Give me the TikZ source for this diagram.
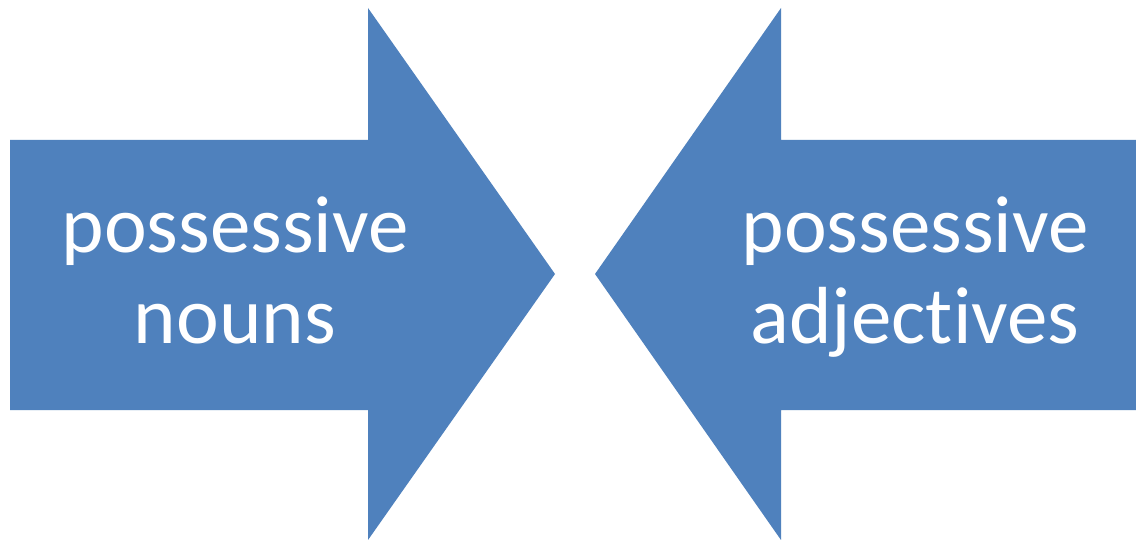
\documentclass[tikz,border=0pt]{standalone}
\usepackage{fontspec}
\setmainfont{Carlito}[Ligatures={NoCommon,NoContextual}]
\definecolor{arrowblue}{HTML}{4F81BD}
\begin{document}
\begin{tikzpicture}[x=1pt,y=-1pt,
  arrowshape/.style={fill=arrowblue,draw=none},
  label/.style={text=white,font=\fontsize{81}{96}\selectfont,anchor=base,inner sep=0pt}]
\useasboundingbox (0,0) rectangle (1136,540);
\fill[white] (0,0) rectangle (1136,540);
% left arrow
\fill[arrowshape] (10,140) -- (368,140) -- (368,8) -- (555,274) -- (368,540) -- (368,410) -- (10,410) -- cycle;
% right arrow
\fill[arrowshape] (1136,140) -- (781,140) -- (781,8) -- (595,274) -- (781,540) -- (781,410) -- (1136,410) -- cycle;
\node[label] (l1) at (235,253) {possessive};
\node[label] (l2) at (235,343) {nouns};
\node[label] (r1) at (915,253) {possessive};
\node[label] (r2) at (915,343) {adjectives};
\end{tikzpicture}
\end{document}
